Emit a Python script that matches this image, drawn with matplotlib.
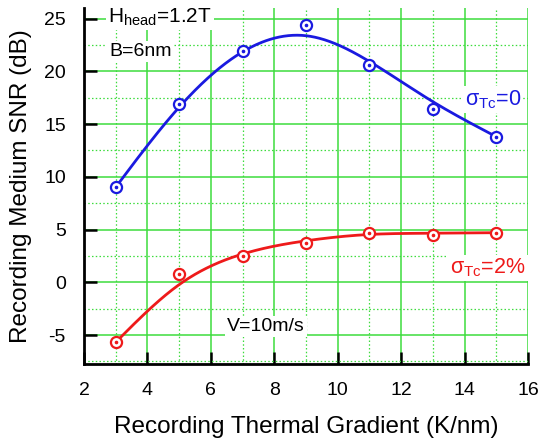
import numpy as np
import matplotlib
matplotlib.use("Agg")
import matplotlib.pyplot as plt
from matplotlib.ticker import MultipleLocator

plt.rcParams['font.family'] = ['Liberation Sans', 'DejaVu Sans']
plt.rcParams['axes.unicode_minus'] = False

x = [3, 5, 7, 9, 11, 13, 15]
snr_sigma0 = [9.0, 16.9, 21.9, 24.4, 20.6, 16.4, 13.8]
snr_sigma2 = [-5.7, 0.8, 2.5, 3.7, 4.7, 4.5, 4.7]

blue = '#1a1ae0'
red = '#ee1a1a'
green = '#3ddc3d'

def smooth(xd, yd, lam, endw=50.0, n=601):
    """Penalised (smoothing-spline-like) curve through the data."""
    xd = np.asarray(xd, float); yd = np.asarray(yd, float)
    xs = np.linspace(xd.min(), xd.max(), n)
    h = xs[1] - xs[0]
    idx = np.round((xd - xs[0]) / h).astype(int)
    W = np.zeros(n); W[idx] = 1.0; W[idx[0]] = endw; W[idx[-1]] = endw
    b = np.zeros(n); b[idx] = yd * W[idx]
    D = np.diff(np.eye(n), 2, axis=0)
    z = np.linalg.solve(np.diag(W) + lam / h**3 * D.T @ D, b)
    return xs, z

fig = plt.figure(figsize=(5.39, 4.45), dpi=100)
ax = fig.add_axes([0.1558, 0.182, 0.824, 0.80])

for ys, c, lam in [(snr_sigma0, blue, 1.8), (snr_sigma2, red, 1.5)]:
    xs, z = smooth(x, ys, lam)
    ax.plot(xs, z, color=c, lw=2, zorder=3)
    ax.plot(x, ys, ls='none', marker='o', ms=8, mfc='white', mec=c, mew=1.6, zorder=4)
    ax.plot(x, ys, ls='none', marker='o', ms=1.6, mfc=c, mec=c, zorder=5)

ax.set_xlim(2, 16)
ax.set_ylim(-7.75, 26)
ax.xaxis.set_major_locator(MultipleLocator(2))
ax.xaxis.set_minor_locator(MultipleLocator(1))
ax.yaxis.set_major_locator(MultipleLocator(5))
ax.yaxis.set_minor_locator(MultipleLocator(2.5))
ax.grid(which='major', color=green, lw=1.1, ls='-', zorder=0)
ax.grid(which='minor', color=green, lw=0.9, ls=(0, (1.2, 1.8)), zorder=0)
ax.set_axisbelow(True)
ax.tick_params(which='major', direction='in', length=9, width=1.8, labelsize=14, pad=13)
ax.tick_params(which='minor', length=0)
for s in ['top', 'right']:
    ax.spines[s].set_visible(False)
for s in ['left', 'bottom']:
    ax.spines[s].set_linewidth(2)

ax.set_xlabel('Recording Thermal Gradient (K/nm)', fontsize=17.5, labelpad=12)
ax.set_ylabel('Recording Medium SNR (dB)', fontsize=17.5, labelpad=9)

bbox = dict(facecolor='white', edgecolor='none', pad=1.5)
ax.text(2.76, 25.1, r'H$_{\mathregular{head}}$=1.2T', fontsize=15, va='center', ha='left', bbox=bbox, zorder=6)
ax.text(2.8, 21.9, 'B=6nm', fontsize=14, va='center', ha='left', bbox=bbox, zorder=6)
ax.text(6.5, -4.2, 'V=10m/s', fontsize=14, va='center', ha='left', bbox=bbox, zorder=6)
ax.text(14.0, 17.3, r'σ$_{\mathregular{Tc}}$=0', fontsize=15.5, color=blue, va='center', ha='left', bbox=bbox, zorder=6)
ax.text(13.55, 1.35, r'σ$_{\mathregular{Tc}}$=2%', fontsize=15.5, color=red, va='center', ha='left', bbox=bbox, zorder=6)

fig.savefig('out.png', dpi=100)
